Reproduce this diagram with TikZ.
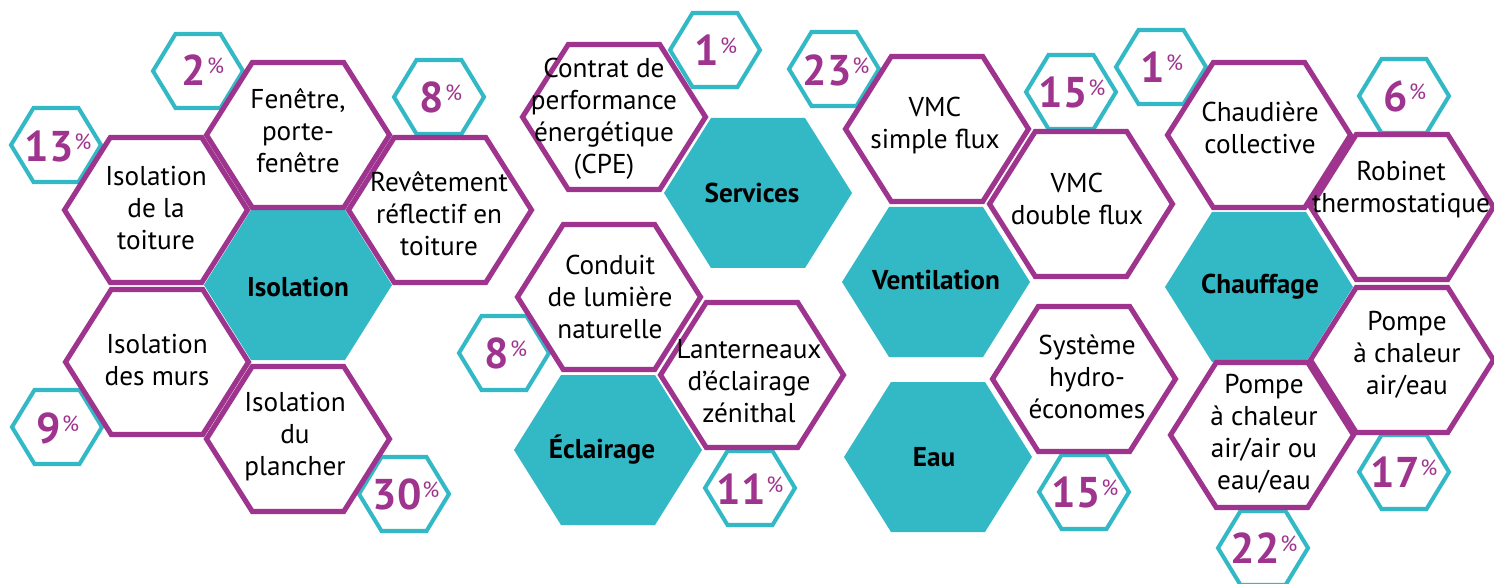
\documentclass[tikz,border=0pt]{standalone}
\usepackage{fontspec}
\setmainfont{PT Sans}
\usepackage{xcolor}
\usepackage{tikz}
\usetikzlibrary{positioning}

\definecolor{hexpurple}{RGB}{158,52,142}
\definecolor{hexteal}{RGB}{51,184,198}

\newcommand{\pct}[1]{{\bfseries\fontsize{24.5}{24.5}\selectfont #1}\kern0.5pt\raisebox{0.24cm}{\fontsize{12.5}{12.5}\selectfont\%}}

\tikzset{
  bighex/.pic={\path[draw=hexpurple, line width=2.9pt, line join=miter, fill=white]
    (-91.5,0) -- (-45.75,-72.5) -- (45.75,-72.5) -- (91.5,0) -- (45.75,72.5) -- (-45.75,72.5) -- cycle;},
  tealhex/.pic={\path[fill=hexteal]
    (-94,0) -- (-47,-75) -- (47,-75) -- (94,0) -- (47,75) -- (-47,75) -- cycle;},
  pcthex/.pic={\path[draw=hexteal, line width=2.3pt, fill=white]
    (-45,0) -- (-22.5,-37) -- (22.5,-37) -- (45,0) -- (22.5,37) -- (-22.5,37) -- cycle;},
  celltext/.style={align=center, inner sep=0, font=\fontsize{15.5}{18.2}\selectfont},
  grouptext/.style={inner sep=0, font=\fontsize{15.5}{18.2}\selectfont\bfseries},
  pcttext/.style={inner sep=0, text=hexpurple},
}

\begin{document}
\begin{tikzpicture}[x=0.02cm, y=-0.02cm]
  \useasboundingbox (0,0) rectangle (1494,584);

  % small percentage cells
  \pic at (56,145) {pcthex};
  \pic at (198,71) {pcthex};
  \pic at (439,97) {pcthex};
  \pic at (57,427) {pcthex};
  \pic at (404,494) {pcthex};
  \pic at (715,50) {pcthex};
  \pic at (504,353) {pcthex};
  \pic at (750,488) {pcthex};
  \pic at (834,69) {pcthex};
  \pic at (1071,92) {pcthex};
  \pic at (1084,492) {pcthex};
  \pic at (1161,67) {pcthex};
  \pic at (1404,96) {pcthex};
  \pic at (1404,472) {pcthex};
  \pic at (1263,548) {pcthex};

  % group cells
  \pic at (298,285) {tealhex};
  \pic at (758,193) {tealhex};
  \pic at (608,450) {tealhex};
  \pic at (936,282) {tealhex};
  \pic at (938,457) {tealhex};
  \pic at (1259,287) {tealhex};

  % measure cells
  \pic at (156,210) {bighex};
  \pic at (298,135) {bighex};
  \pic at (440,210) {bighex};
  \pic at (157,362) {bighex};
  \pic at (298,439) {bighex};
  \pic at (614,117) {bighex};
  \pic at (609,297) {bighex};
  \pic at (752,375) {bighex};
  \pic at (937,129) {bighex};
  \pic at (1081,204) {bighex};
  \pic at (1084,379) {bighex};
  \pic at (1259,135) {bighex};
  \pic at (1402,207) {bighex};
  \pic at (1402,360) {bighex};
  \pic at (1262,435) {bighex};

  \node[grouptext] (isolation) at (298,287) {Isolation};
  \node[grouptext] (services) at (752,193) {Services};
  \node[grouptext] (eclairage) at (602,450) {Éclairage};
  \node[grouptext] (ventilation) at (936,280) {Ventilation};
  \node[grouptext] (eau) at (934,457) {Eau};
  \node[grouptext] (chauffage) at (1260,287) {Chauffage};

  \node[celltext] (toiture) at (156,208) {Isolation\\de la\\toiture};
  \node[celltext] (fenetre) at (298,131) {Fenêtre,\\porte-\\fenêtre};
  \node[celltext] (revetement) at (439,214) {Revêtement\\réflectif en\\toiture};
  \node[celltext] (murs) at (157,360) {Isolation\\des murs};
  \node[celltext] (plancher) at (295,437) {Isolation\\du\\plancher};
  \node[celltext] (contrat) at (604,119) {Contrat de\\performance\\énergétique\\(CPE)};
  \node[celltext] (conduit) at (610,297) {Conduit\\de lumière\\naturelle};
  \node[celltext] (lanterneaux) at (749,381) {Lanterneaux\\d’éclairage\\zénithal};
  \node[celltext] (vmcsimple) at (935,126) {VMC\\simple flux};
  \node[celltext] (vmcdouble) at (1077,199) {VMC\\double flux};
  \node[celltext] (systeme) at (1087,377) {Système\\hydro-\\économes};
  \node[celltext] (chaudiere) at (1260,128) {Chaudière\\collective};
  \node[celltext] (robinet) at (1401,190) {Robinet\\thermostatique};
  \node[celltext] (pacaireau) at (1407,355) {Pompe\\à chaleur\\air/eau};
  \node[celltext] (pacairair) at (1264,434) {Pompe\\à chaleur\\air/air ou\\eau/eau};

  \node[pcttext] (pct13) at (58,146) {\pct{13}};
  \node[pcttext] (pct2) at (203,70) {\pct{2}};
  \node[pcttext] (pct8a) at (441,97) {\pct{8}};
  \node[pcttext] (pct9) at (58,428) {\pct{9}};
  \node[pcttext] (pct30) at (406,494) {\pct{30}};
  \node[pcttext] (pct1a) at (716,50) {\pct{1}};
  \node[pcttext] (pct8b) at (506,353) {\pct{8}};
  \node[pcttext] (pct11) at (750,489) {\pct{11}};
  \node[pcttext] (pct23) at (836,70) {\pct{23}};
  \node[pcttext] (pct15a) at (1072,92) {\pct{15}};
  \node[pcttext] (pct15b) at (1085,492) {\pct{15}};
  \node[pcttext] (pct1b) at (1162,67) {\pct{1}};
  \node[pcttext] (pct6) at (1405,96) {\pct{6}};
  \node[pcttext] (pct17) at (1404,472) {\pct{17}};
  \node[pcttext] (pct22) at (1264,548) {\pct{22}};
\end{tikzpicture}
\end{document}
